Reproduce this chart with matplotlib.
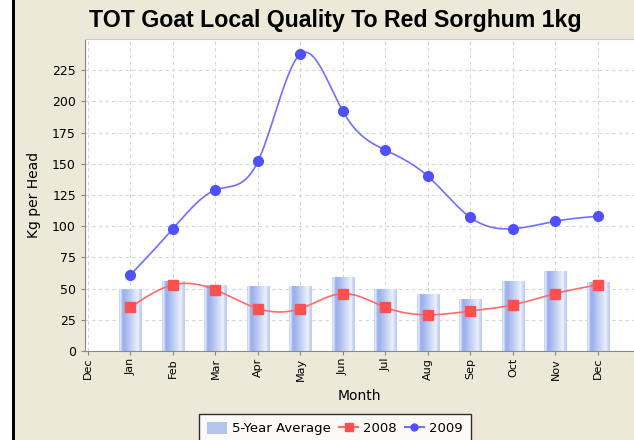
import numpy as np
import matplotlib
matplotlib.use("Agg")
import matplotlib.pyplot as plt
from matplotlib.patches import Rectangle
from matplotlib.lines import Line2D

# data
months = ["Dec", "Jan", "Feb", "Mar", "Apr", "May", "Jun",
          "Jul", "Aug", "Sep", "Oct", "Nov", "Dec"]
avg_5yr = [50, 56, 53, 52, 52, 59, 50, 46, 42, 56, 64, 55]
y2008 = [35, 53, 49, 34, 34, 46, 35, 29, 32, 37, 46, 53]
y2009 = [61, 98, 129, 152, 238, 192, 161, 140, 107, 98, 104, 108]
yticks = [0, 25, 50, 75, 100, 125, 150, 175, 200, 225]

BG = "#ECE9D8"


# natural cubic spline, only used to draw the smooth line between the points
def spline(x, y, steps=20):
    x = np.asarray(x, float)
    y = np.asarray(y, float)
    n = len(x)
    h = np.diff(x)
    A = np.zeros((n, n))
    b = np.zeros(n)
    A[0, 0] = 1
    A[-1, -1] = 1
    for i in range(1, n - 1):
        A[i, i - 1] = h[i - 1]
        A[i, i] = 2 * (h[i - 1] + h[i])
        A[i, i + 1] = h[i]
        b[i] = 6 * ((y[i + 1] - y[i]) / h[i] - (y[i] - y[i - 1]) / h[i - 1])
    m = np.linalg.solve(A, b)
    xs, ys = [], []
    for i in range(n - 1):
        t = np.linspace(x[i], x[i + 1], steps, endpoint=False)
        a = x[i + 1] - t
        c = t - x[i]
        s = (m[i] * a ** 3 + m[i + 1] * c ** 3) / (6 * h[i]) \
            + (y[i] / h[i] - m[i] * h[i] / 6) * a \
            + (y[i + 1] / h[i] - m[i + 1] * h[i] / 6) * c
        xs.append(t)
        ys.append(s)
    xs.append([x[-1]])
    ys.append([y[-1]])
    return np.concatenate(xs), np.concatenate(ys)


fig = plt.figure(figsize=(6.34, 4.4), dpi=100, facecolor=BG)
# white strip and black border on the left edge
fig.patches.append(Rectangle((0, 0), 12 / 634, 1, transform=fig.transFigure,
                             facecolor="white", edgecolor="none"))
fig.patches.append(Rectangle((12 / 634, 0), 3 / 634, 1, transform=fig.transFigure,
                             facecolor="black", edgecolor="none"))

ax = fig.add_axes([85 / 634, 89 / 440, 1 - 85 / 634, 312 / 440])
ax.set_facecolor("white")

x = np.arange(1, 13)

# bars with a horizontal gradient
bars = ax.bar(x, avg_5yr, width=0.52, color="#b8c8f2", edgecolor="none", zorder=2)
stops = np.array([0.0, 0.07, 0.14, 0.22, 0.6, 0.84, 0.9, 1.0])
cols = np.array([[196, 208, 244], [232, 238, 252], [160, 180, 236], [156, 176, 236],
                 [204, 216, 246], [238, 242, 253], [204, 216, 246], [190, 204, 242]]) / 255
pos = np.linspace(0, 1, 64)
grad = np.stack([np.interp(pos, stops, cols[:, k]) for k in range(3)], axis=-1)[None, :, :]
for b in bars:
    x0, w, h = b.get_x(), b.get_width(), b.get_height()
    im = ax.imshow(grad, extent=(x0, x0 + w, 0, h), aspect="auto", zorder=2.1,
                   interpolation="bilinear")
    im.set_clip_path(b)

sx, sy = spline(x, y2008)
ax.plot(sx, sy, color="#FF6A6A", lw=1.2, zorder=3)
ax.plot(x, y2008, ls="none", marker="s", ms=7.5, color="#FF5050", zorder=4)

sx, sy = spline(x, y2009)
ax.plot(sx, sy, color="#7070FF", lw=1.2, zorder=3)
ax.plot(x, y2009, ls="none", marker="o", ms=7, color="#5050FF", zorder=4)

ax.set_xlim(-0.07, 12.85)
ax.set_ylim(0, 250)
ax.set_xticks(range(13))
ax.set_xticklabels(months, rotation=90, fontsize=8)
ax.set_yticks(yticks)
ax.tick_params(axis="y", labelsize=9, length=3, color="#888888")
ax.tick_params(axis="x", length=3, color="#888888", pad=2)
ax.grid(True, color="#D6D6D6", ls=(0, (3, 3)), lw=0.8)
ax.set_axisbelow(True)
for side in ["left", "bottom"]:
    ax.spines[side].set_color("#888888")
ax.spines["top"].set_color("#CCCCCC")
ax.spines["right"].set_visible(False)

ax.set_ylabel("Kg per Head", fontsize=10, labelpad=8)
ax.set_xlabel("Month", fontsize=10, labelpad=6)

fig.text(335 / 634, 1 - 20 / 440, "TOT Goat Local Quality To Red Sorghum 1kg",
         ha="center", va="center", fontsize=16.7, fontweight="bold",
         family="Liberation Sans")

handles = [Rectangle((0, 0), 1, 1, facecolor="#B4C6F0", edgecolor="none"),
           Line2D([], [], color="#FF6A6A", marker="s", ms=6, mfc="#FF5050", mec="#FF5050"),
           Line2D([], [], color="#7070FF", marker="o", ms=5, mfc="#5050FF", mec="#5050FF")]
leg = fig.legend(handles, ["5-Year Average", "2008", "2009"], loc="upper center",
                 bbox_to_anchor=(335 / 634, 1 - 414 / 440), ncol=3, fontsize=9.5,
                 frameon=True, fancybox=False, handlelength=1.5, handletextpad=0.35,
                 columnspacing=0.6, borderpad=0.6, handleheight=1.0,
                 borderaxespad=0)
leg.get_frame().set_edgecolor("black")
leg.get_frame().set_linewidth(1.0)

fig.savefig("out.png", dpi=100, facecolor=BG)
